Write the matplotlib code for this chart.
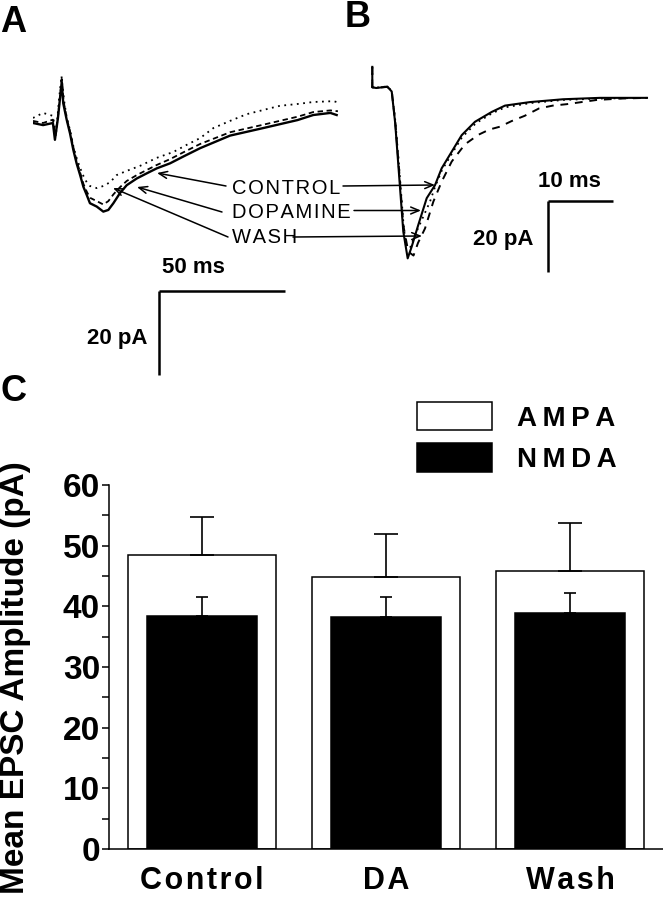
import matplotlib
matplotlib.use('Agg')
import matplotlib.pyplot as plt
import numpy as np

plt.rcParams['font.family'] = ['Liberation Sans', 'DejaVu Sans']

W, H = 663, 900

# panel A traces: time (ms) and current (pA)
a_ctrl_t = [0, 4.0, 7.9, 8.7, 9.9, 11.4, 12.0, 13.4, 14.7, 16.0, 17.3, 18.7, 20.0, 21.3, 22.6,
            25.3, 27.9, 29.9, 31.9, 34.5, 37.2, 41.2, 45.1, 49.1, 54.4, 59.6, 66.3, 78.2,
            91.4, 105.0, 111.2, 118.0, 120.5]
a_ctrl_i = [0, -0.5, 0, -4.0, 1.2, 9.8, 4.7, 0.7, -2.5, -6.4, -9.6, -12.4, -15.2, -17.1, -19.1,
            -19.9, -21.1, -20.7, -19.1, -16.7, -14.8, -13.2, -12.0, -10.8, -9.6, -8.0, -6.0, -3.0,
            -1.2, 0.7, 1.9, 2.4, 1.9]
a_da_t = [0, 4.0, 7.9, 9.1, 10.3, 11.3, 12.3, 13.4, 14.7, 16.0, 17.3, 18.7, 20.0, 21.3, 22.6,
          25.3, 27.9, 30.6, 33.2, 37.2, 42.5, 49.1, 55.7, 61.0, 66.3, 71.6, 78.2, 84.8, 91.4,
          98.0, 104.6, 111.2, 119.2, 121.8]
a_da_i = [1.2, 2.4, 1.7, -2.9, 5.5, 11.2, 5.5, 1.2, -1.7, -5.5, -8.3, -10.7, -12.6, -14.1, -15.0,
          -15.5, -15.0, -14.1, -12.4, -11.4, -10.2, -8.3, -6.9, -5.2, -3.6, -1.2, 0.5, 2.1, 3.1,
          4.1, 4.5, 5.0, 5.2, 4.8]
a_wash_t = [0, 4.0, 7.9, 8.9, 10.0, 11.4, 12.2, 13.4, 14.7, 16.0, 17.3, 18.7, 20.0, 21.3, 22.6,
            25.3, 27.9, 29.9, 31.9, 34.5, 37.2, 41.2, 45.1, 49.1, 54.4, 59.6, 66.3, 78.2, 91.4,
            105.0, 111.2, 118.0, 121.0]
a_wash_i = [0.5, 0.0, 0.8, -3.0, 2.0, 10.5, 5.0, 1.0, -2.0, -5.8, -9.0, -11.8, -14.5, -16.3, -17.8,
            -18.6, -19.4, -18.6, -17.0, -15.3, -13.8, -12.4, -11.2, -10.0, -8.6, -7.0, -5.0, -2.2,
            -0.4, 1.5, 2.6, 3.0, 2.8]

# panel B traces: time (ms) and current (pA)
b_ctrl_t = [0, 0, 0.6, 1.5, 2.3, 2.97, 3.5, 3.98, 4.74, 5.41, 6.02, 7.03, 8.32, 9.59, 10.61,
            12.14, 13.67, 15.70, 18.26, 20.29, 24.11, 29.16, 34.82, 42.0]
b_ctrl_i = [6.0, 0.2, 0.0, 0.2, 0.4, -1.0, -10.0, -21.9, -40.8, -48.4, -45.1, -38.9, -31.3, -27.6,
            -22.8, -18.1, -13.4, -9.6, -6.8, -5.0, -4.0, -3.2, -2.8, -2.8]
b_da_t = [0, 0, 0.6, 1.5, 2.3, 2.97, 3.5, 4.0, 4.74, 5.1, 5.76, 6.53, 7.9, 8.82, 9.59, 10.66,
          12.19, 13.72, 15.85, 18.3, 20.3, 24.1, 29.2, 34.8, 42.0]
b_da_i = [6.0, 0.2, 0.1, 0.3, 0.4, -0.8, -9.0, -20.0, -38.0, -44.5, -45.5, -41.8, -36.1, -32.3,
          -28.1, -23.3, -18.6, -14.0, -10.0, -7.2, -5.5, -4.3, -3.4, -3.0, -2.8]
b_wash_t = [0, 0, 0.6, 1.5, 2.3, 2.97, 3.5, 4.0, 4.74, 5.5, 6.3, 6.99, 8.06, 9.33, 10.61, 12.14,
            14.17, 16.21, 17.9, 19.5, 21.3, 23.3, 25.5, 27.6, 29.7, 34.3, 38.0, 42.0]
b_wash_i = [6.0, 0.2, 0.1, 0.2, 0.3, -0.9, -9.5, -21.0, -39.0, -46.5, -47.6, -44.0, -39.9, -32.3,
            -26.6, -20.9, -16.0, -13.3, -11.8, -11.0, -9.4, -7.9, -5.8, -5.0, -4.6, -3.4, -3.0, -2.8]

# panel C
groups = ['Control', 'DA', 'Wash']
ampa = [48.5, 44.8, 45.9]
ampa_err = [6.3, 7.1, 7.8]
nmda = [38.4, 38.3, 38.9]
nmda_err = [3.1, 3.2, 3.3]


def spaced(s, sep='\u200a'):
    return sep.join(s)


def rect(l, t, r, b):
    return [l / W, 1 - b / H, (r - l) / W, (b - t) / H]


fig = plt.figure(figsize=(W / 100, H / 100), dpi=100)

# ---- panel A
axA = fig.add_axes(rect(33, 60, 345, 380))
axA.plot(a_ctrl_t, a_ctrl_i, color='black', lw=1.7)
axA.plot(a_wash_t, a_wash_i, color='black', lw=1.3, ls=(0, (3, 2)))
axA.plot(a_da_t, a_da_i, color='black', lw=1.3, ls=(0, (1, 2.5)))
axA.plot([50, 100], [-40, -40], color='black', lw=1.8, solid_capstyle='butt')
axA.plot([50, 50], [-40, -60], color='black', lw=1.8, solid_capstyle='butt')
axA.text(51, -34.4, '50 ms', fontsize=16, fontweight='bold', va='center', ha='left')
axA.text(45.3, -51.2, '20 pA', fontsize=16, fontweight='bold', va='center', ha='right')
axA.set_xlim(0, 312 / 2.52)
axA.set_ylim(-61.19, 15)
axA.axis('off')

# ---- panel B
axB = fig.add_axes(rect(360, 55, 663, 280))
axB.plot(b_ctrl_t, b_ctrl_i, color='black', lw=1.5)
axB.plot(b_da_t, b_da_i, color='black', lw=1.3, ls=(0, (1, 2.5)))
axB.plot(b_wash_t, b_wash_i, color='black', lw=1.4, ls=(0, (4, 3.5)))
axB.plot([26.8, 36.8], [-32.2, -32.2], color='black', lw=1.8, solid_capstyle='butt')
axB.plot([26.8, 26.8], [-32.2, -52.2], color='black', lw=1.8, solid_capstyle='butt')
axB.text(25.3, -26.7, '10 ms', fontsize=16, fontweight='bold', va='center', ha='left')
axB.text(24.7, -42.9, '20 pA', fontsize=16, fontweight='bold', va='center', ha='right')
axB.set_xlim(-(372.3 - 360) / 6.54, (663 - 372.3) / 6.54)
axB.set_ylim((88 - 280) / 3.52, (88 - 55) / 3.52)
axB.axis('off')

# ---- overlay for panel letters and trace labels
ov = fig.add_axes([0, 0, 1, 1])
ov.set_xlim(0, W)
ov.set_ylim(H, 0)
ov.axis('off')
for letter, x, y in [('A', 0, 32), ('B', 345, 27), ('C', 0, 401)]:
    ov.text(x, y, letter, fontsize=26, fontweight='bold', va='baseline', ha='left')

arrow = dict(arrowstyle='->,head_length=0.6,head_width=0.25', lw=1.1, color='black',
             shrinkA=0, shrinkB=0)
labels = [('CONTROL', 189, (226, 186), (157, 173), (343, 186), (435, 185)),
          ('DOPAMINE', 212.5, (222, 212), (137, 187), (354, 210.5), (421, 210.5)),
          ('WASH', 237.5, (228, 237), (113, 188), (293, 237), (422, 236))]
for name, ty, l0, l1, r0, r1 in labels:
    ov.text(232, ty, spaced(name), fontsize=14.5, va='center', ha='left')
    ov.annotate('', xy=l1, xytext=l0, arrowprops=arrow)
    ov.annotate('', xy=r1, xytext=r0, arrowprops=arrow)

# ---- panel C
axC = fig.add_axes(rect(109, 485, 663, 849))
x = np.arange(len(groups))
b1 = axC.bar(x, ampa, width=0.8, color='white', edgecolor='black', linewidth=1.1, zorder=2)
axC.errorbar(x, ampa, yerr=[np.zeros(len(x)), ampa_err], fmt='none', ecolor='black',
             elinewidth=1.2, capsize=8.6, capthick=1.2, zorder=3)
b2 = axC.bar(x, nmda, width=0.6, color='black', edgecolor='black', linewidth=1.1, zorder=4)
axC.errorbar(x, nmda, yerr=[np.zeros(len(x)), nmda_err], fmt='none', ecolor='black',
             elinewidth=1.2, capsize=4.3, capthick=1.2, zorder=5)

axC.set_xlim(-0.505, 2.505)
axC.set_ylim(0, 60)
axC.set_yticks(range(0, 61, 10))
axC.set_yticks(range(5, 60, 10), minor=True)
axC.set_xticks(x)
axC.set_xticklabels([spaced(g) for g in groups], fontsize=22, fontweight='bold')
for lab in axC.get_yticklabels():
    lab.set_fontweight('bold')
axC.tick_params(axis='y', which='both', direction='out', length=5, width=1.1, labelsize=24, pad=1.5)
axC.tick_params(axis='x', length=0, pad=12)
for s in ['top', 'right']:
    axC.spines[s].set_visible(False)
for s in ['left', 'bottom']:
    axC.spines[s].set_linewidth(1.1)
axC.set_ylabel('Mean EPSC Amplitude (pA)', fontsize=24, fontweight='bold')
axC.yaxis.set_label_coords(-0.14, 0.472)

axC.legend([b1, b2], [spaced('AMPA', '\u2009'), spaced('NMDA', '\u2009')], loc='upper left',
           bbox_to_anchor=(417 / W, 1 - 402 / H), bbox_transform=fig.transFigure,
           frameon=False, borderpad=0, borderaxespad=0, handlelength=2.7, handleheight=1.2,
           handletextpad=0.9, labelspacing=0.42, prop=dict(weight='bold', size=20))

fig.savefig('out.png', dpi=100)
